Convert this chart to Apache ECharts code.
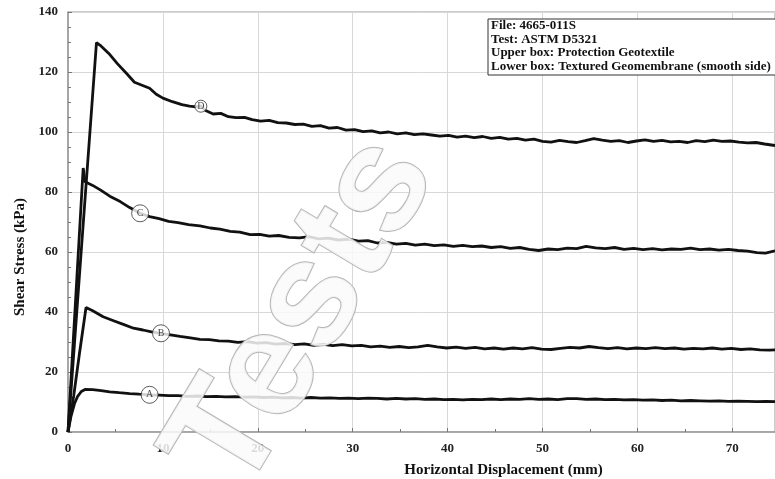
<!DOCTYPE html>
<html>
<head>
<meta charset="utf-8">
<script src="https://cdn.jsdelivr.net/npm/echarts@6/dist/echarts.min.js"></script>
<style>html,body{margin:0;padding:0;background:#fff}#c{width:775px;height:479px}</style>
</head>
<body>
<div id="c"></div>
<script>
const xTicks = [0,10,20,30,40,50,60,70];
const yTicks = [0,20,40,60,80,100,120,140];
const infoLines = ['File: 4665-011S','Test: ASTM D5321','Upper box: Protection Geotextile','Lower box: Textured Geomembrane (smooth side)'];
const curveNames = ['A','B','C','D'];
const labelX = [8.6, 9.8, 7.6, 14.0];
const labelY = [12.4, 32.9, 72.9, 108.6];

const curveD = [[0,0],[3.0,129.8],[3.5,128.6],[4.3,126.2],[5.2,122.8],[6.2,119.4],[7.0,116.6],[7.8,115.6],[8.6,114.6],[9.3,112.6],[10.0,111.3],[11.0,110.1],[12.0,109.1],[12.8,108.6],[13.5,108.4],[14.0,108.7],[14.5,107.2],[15.3,106],[16.1,106.2],[16.9,105.1],[17.7,104.8],[18.6,104.9],[19.4,104.1],[20.3,103.6],[21.2,103.9],[22.1,103.1],[23.0,103],[23.9,102.5],[24.8,102.6],[25.7,101.9],[26.6,102.1],[27.5,101.3],[28.4,101.5],[29.3,100.6],[30.2,100.8],[31.1,100.1],[32.0,100.4],[32.9,99.7],[33.8,100],[34.7,99.4],[35.6,99.7],[36.5,99.1],[37.4,99.4],[38.3,99],[39.2,98.6],[40.1,98.9],[41.0,98.3],[41.9,98.6],[42.8,98.1],[43.7,98.5],[44.6,97.9],[45.5,98.2],[46.4,97.6],[47.3,97.9],[48.2,97.3],[49.1,97.6],[50.0,96.9],[50.9,96.6],[51.8,97.2],[52.7,96.8],[53.6,96.5],[54.5,97.1],[55.4,97.8],[56.3,97.3],[57.2,96.9],[58.1,97.1],[59.0,96.5],[59.9,97.0],[60.8,97.4],[61.7,96.9],[62.6,97.2],[63.5,96.7],[64.4,96.9],[65.3,96.5],[66.2,97.1],[67.1,96.8],[68.0,97.3],[68.9,96.9],[69.8,97.0],[70.7,96.6],[71.6,96.4],[72.5,96.5],[73.4,96.0],[74.5,95.5]];
const curveC = [[0,0],[1.6,88],[1.8,83.4],[2.6,82.2],[3.4,80.7],[4.4,78.6],[5.5,76.8],[6.5,74.8],[7.6,72.9],[8.6,71.8],[9.6,71.1],[10.6,70.2],[11.6,69.8],[12.7,69.1],[13.9,68.7],[15.0,68],[16.0,67.6],[17.1,66.9],[18.1,66.6],[19.2,65.8],[20.2,65.9],[21.2,65.3],[22.2,65.5],[23.3,64.9],[24.4,64.7],[25.4,65.1],[26.4,64.4],[27.4,64.6],[28.5,64.0],[29.6,64.3],[30.6,63.6],[31.6,63.8],[32.6,63.0],[33.6,63.2],[34.6,62.6],[35.6,62.9],[36.6,62.3],[37.6,62.6],[38.6,62.1],[39.6,62.4],[40.6,61.9],[41.6,62.2],[42.6,61.8],[43.6,62.0],[44.6,61.5],[45.6,61.8],[46.6,61.2],[47.6,61.5],[48.6,60.9],[49.6,60.5],[50.6,61.0],[51.6,60.8],[52.6,61.3],[53.6,61.1],[54.6,61.9],[55.6,61.4],[56.6,61.1],[57.6,61.5],[58.6,60.9],[59.6,61.2],[60.6,60.8],[61.6,61.1],[62.6,60.7],[63.6,61.0],[64.6,60.9],[65.6,61.3],[66.6,60.8],[67.6,61.0],[68.6,60.6],[69.6,60.9],[70.6,60.5],[71.6,60.3],[72.6,59.8],[73.5,59.6],[74.5,60.4]];
const curveB = [[0,0],[0.6,12],[1.2,26],[1.9,41.5],[2.6,40.4],[3.7,38.4],[4.8,37.1],[5.9,35.8],[6.9,34.6],[7.9,34.0],[8.8,33.4],[9.8,32.9],[10.8,32.4],[11.8,31.9],[12.9,31.4],[13.9,30.9],[14.9,30.8],[15.9,30.4],[16.9,30.3],[17.9,29.9],[18.9,30.1],[19.9,29.6],[20.9,29.8],[21.9,29.3],[22.9,29.5],[23.9,29.1],[24.9,29.4],[25.9,28.9],[26.9,29.2],[27.9,28.8],[28.9,29.1],[29.9,28.7],[30.9,28.9],[31.9,28.4],[32.9,28.6],[33.9,28.2],[34.9,28.5],[35.9,28.1],[36.9,28.4],[37.9,28.9],[38.9,28.4],[39.9,28.0],[40.9,28.3],[41.9,27.9],[42.9,28.2],[43.9,27.7],[44.9,28.0],[45.9,27.6],[46.9,28.0],[47.9,27.7],[48.9,28.1],[49.9,27.6],[50.9,27.5],[51.9,27.9],[52.9,28.2],[53.9,28.0],[54.9,28.5],[55.9,28.1],[56.9,27.8],[57.9,28.1],[58.9,27.7],[59.9,28.0],[60.9,27.8],[61.9,28.1],[62.9,27.8],[63.9,28.0],[64.9,27.6],[65.9,27.9],[66.9,27.7],[67.9,28.0],[68.9,27.6],[69.9,27.9],[70.9,27.5],[71.9,27.7],[72.9,27.4],[73.9,27.3],[74.5,27.4]];
const curveA = [[0,0],[0.3,5],[0.7,9.6],[1.0,11.8],[1.4,13.5],[1.8,14.2],[2.6,14.1],[3.5,13.8],[4.4,13.4],[5.4,13.1],[6.5,12.8],[7.5,12.6],[8.6,12.4],[9.6,12.3],[10.6,12.1],[11.6,12.1],[12.6,11.9],[13.6,12.0],[14.6,11.8],[15.6,11.9],[16.6,11.7],[17.6,11.8],[18.6,11.6],[19.6,11.7],[20.6,11.5],[21.6,11.6],[22.6,11.4],[23.6,11.5],[24.6,11.3],[25.6,11.5],[26.6,11.3],[27.6,11.4],[28.6,11.2],[29.6,11.3],[30.6,11.1],[31.6,11.3],[32.6,11.2],[33.6,11.0],[34.6,11.2],[35.6,11.0],[36.6,11.1],[37.6,10.9],[38.6,11.0],[39.6,10.8],[40.6,10.9],[41.6,10.7],[42.6,10.9],[43.6,10.8],[44.6,11.0],[45.6,10.8],[46.6,11.0],[47.6,10.9],[48.6,11.1],[49.6,10.9],[50.6,11.0],[51.6,10.8],[52.6,11.1],[53.6,11.1],[54.6,10.9],[55.6,11.0],[56.6,10.8],[57.6,10.9],[58.6,10.7],[59.6,10.8],[60.6,10.6],[61.6,10.7],[62.6,10.5],[63.6,10.6],[64.6,10.4],[65.6,10.5],[66.6,10.4],[67.6,10.3],[68.6,10.4],[69.6,10.2],[70.6,10.3],[71.6,10.2],[72.6,10.1],[73.6,10.2],[74.5,10.1]];

const serif = '"Liberation Serif", "DejaVu Serif", serif';
const chart = echarts.init(document.getElementById('c'), null, {renderer: 'canvas'});

const curves = [curveA, curveB, curveC, curveD];
const lineSeries = curves.map((d, i) => ({
  name: curveNames[i], type: 'line', data: d, symbol: 'none', smooth: false,
  lineStyle: {color: '#111', width: 2.8}, z: 3
}));

const labelSeries = {
  type: 'scatter', z: 5,
  data: curveNames.map((n, i) => ({name: n, value: [labelX[i], labelY[i]],
    symbolSize: n === 'D' ? 12 : 17})),
  symbol: 'circle',
  itemStyle: {color: '#fff', borderColor: '#333', borderWidth: 1},
  label: {show: true, position: 'inside', formatter: p => p.name, color: '#222', fontFamily: serif, fontSize: 10}
};

const gfx = [
  {type: 'rect', shape: {x: 488, y: 19, width: 292, height: 56}, style: {fill: '#fff', stroke: '#333', lineWidth: 1}, z: 10}
];
infoLines.forEach((t, i) => {
  gfx.push({type: 'text', x: 491, y: 25.5 + i * 13.7, z: 11,
    style: {text: t, fill: '#111', font: 'bold 13px ' + serif, textVerticalAlign: 'middle'}});
});
gfx.push({type: 'text', x: 304, y: 315, rotation: 1.03, z: 20, silent: true,
  style: {text: 'Tests', font: 'bold 150px "Liberation Sans", Arial, sans-serif',
    textAlign: 'center', textVerticalAlign: 'middle',
    fill: 'rgba(250,250,250,0.85)', stroke: '#b5b5b5', lineWidth: 2,
    shadowBlur: 4, shadowColor: 'rgba(0,0,0,0.35)', shadowOffsetX: 2, shadowOffsetY: 2}});

chart.setOption({
  animation: false,
  backgroundColor: '#fff',
  grid: {left: 68, right: 0, top: 12, bottom: 47, containLabel: false, outerBoundsMode: 'none',
    show: true, borderColor: '#999', borderWidth: 1, backgroundColor: 'transparent'},
  xAxis: {
    type: 'value', min: 0, max: 74.5, interval: 10,
    name: 'Horizontal Displacement (mm)', nameLocation: 'middle', nameGap: 31,
    nameTextStyle: {fontFamily: serif, fontWeight: 'bold', fontSize: 15, color: '#111', padding: [0, 0, 0, 164]},
    axisLine: {show: true, lineStyle: {color: '#999', width: 1.5}},
    axisTick: {show: true, inside: true, length: 4, lineStyle: {color: '#777'}},
    minorTick: {show: true, splitNumber: 2, length: 3, lineStyle: {color: '#777'}},
    axisLabel: {fontFamily: serif, fontWeight: 'bold', fontSize: 13, color: '#222', margin: 10, showMaxLabel: false,
      formatter: v => xTicks.includes(v) ? String(v) : ''},
    splitLine: {show: true, lineStyle: {color: '#d8d8d8', width: 1}}
  },
  yAxis: {
    type: 'value', min: 0, max: 140, interval: 20,
    name: 'Shear Stress (kPa)', nameLocation: 'middle', nameGap: 40,
    nameTextStyle: {fontFamily: serif, fontWeight: 'bold', fontSize: 15, color: '#111', padding: [0, 70, 0, 0]},
    axisLine: {show: true, lineStyle: {color: '#999', width: 1.5}},
    axisTick: {show: true, inside: true, length: 4, lineStyle: {color: '#777'}},
    minorTick: {show: true, splitNumber: 4, length: 3, lineStyle: {color: '#777'}},
    axisLabel: {fontFamily: serif, fontWeight: 'bold', fontSize: 13, color: '#222', margin: 10,
      formatter: v => yTicks.includes(v) ? String(v) : ''},
    splitLine: {show: true, lineStyle: {color: '#d8d8d8', width: 1}}
  },
  series: lineSeries.concat([labelSeries]),
  graphic: gfx
});
</script>
</body>
</html>
